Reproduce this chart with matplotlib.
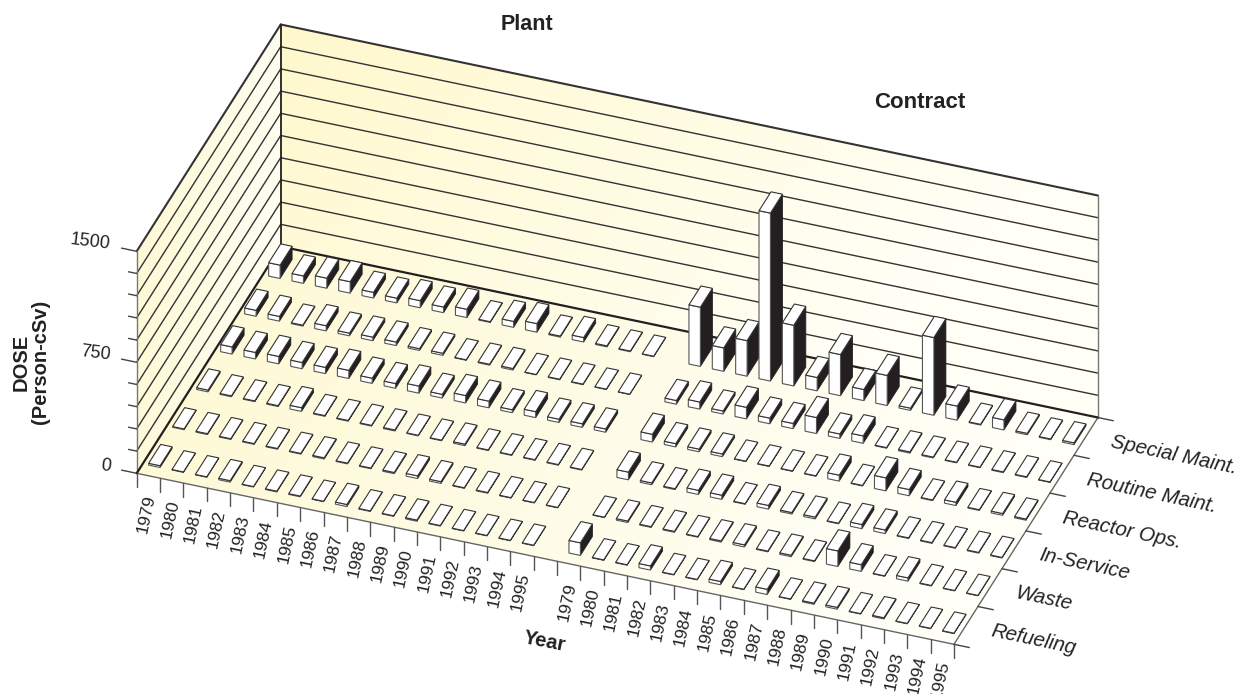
import numpy as np
import matplotlib
matplotlib.use("Agg")
import matplotlib.pyplot as plt
from matplotlib.patches import Polygon

plt.rcParams['font.family'] = ['Liberation Sans', 'DejaVu Sans']

YEARS = list(range(1979, 1996))
JOBS = ["Refueling", "Waste", "In-Service", "Reactor Ops.", "Routine Maint.", "Special Maint."]
DOSE_TICKS = [0, 750, 1500]

# Dose values (person-cSv), 1979 to 1995
plant_refueling = [12, 3, 3, 10, 3, 5, 5, 3, 14, 4, 4, 8, 4, 3, 3, 3, 3]
plant_waste = [5, 6, 5, 5, 5, 5, 8, 5, 5, 8, 18, 12, 4, 5, 3, 3, 3]
plant_inservice = [12, 6, 5, 6, 25, 5, 5, 5, 7, 4, 4, 10, 4, 4, 4, 4, 4]
plant_reactor = [48, 44, 50, 42, 42, 55, 35, 32, 48, 25, 50, 45, 20, 40, 22, 24, 22]
plant_routine = [40, 32, 6, 35, 18, 24, 24, 12, 14, 3, 6, 10, 3, 4, 4, 3, 2]
plant_special = [90, 50, 68, 77, 38, 32, 48, 38, 56, 5, 40, 58, 7, 30, 7, 5, 3]

contract_refueling = [85, 3, 3, 28, 3, 3, 22, 3, 35, 3, 8, 12, 3, 8, 3, 3, 3]
contract_waste = [3, 10, 5, 6, 4, 8, 14, 5, 10, 5, 105, 45, 3, 22, 4, 3, 3]
contract_inservice = [52, 12, 6, 28, 28, 4, 25, 10, 12, 4, 28, 24, 4, 5, 4, 5, 4]
contract_reactor = [52, 22, 18, 18, 3, 3, 3, 3, 40, 4, 88, 42, 5, 22, 5, 12, 8]
contract_routine = [25, 48, 20, 78, 38, 35, 108, 30, 50, 4, 8, 6, 4, 4, 5, 5, 3]
contract_special = [400, 158, 240, 1135, 410, 90, 278, 75, 203, 15, 525, 95, 5, 68, 10, 5, 12]

plant = [plant_refueling, plant_waste, plant_inservice, plant_reactor, plant_routine, plant_special]
contract = [contract_refueling, contract_waste, contract_inservice, contract_reactor, contract_routine, contract_special]

N_SLOTS = 35
BAR_W = 0.49
BAR_D = 0.5
WHITE = "#FFFFFF"
DARK = "#231F20"
GRAY = "#555555"


# Axonometric projection of the floor and walls, in pixels
def project(x, y, z=0):
    px = 136.7 + 23.35 * x + 24.0 * y
    py = 473.3 + 4.886 * x - 37.8 * y - z * 222.0 / 1500
    return px, py


def gradient(ax, corners, start, end, angle):
    pts = np.array(corners)
    x0, y0 = pts.min(axis=0)
    x1, y1 = pts.max(axis=0)
    xx, yy = np.meshgrid(np.linspace(0, 1, 200), np.linspace(0, 1, 200))
    t = np.clip(xx * np.cos(angle) + yy * np.sin(angle), 0, 1)[..., None]
    img = np.array(start) * (1 - t) + np.array(end) * t
    im = ax.imshow(img / 255.0, extent=(x0, x1, y1, y0), aspect='auto', zorder=1)
    im.set_clip_path(Polygon(corners, transform=ax.transData))


def line(ax, a, b, color=GRAY, lw=1.0, zorder=2):
    ax.plot([a[0], b[0]], [a[1], b[1]], color=color, lw=lw, zorder=zorder, solid_capstyle='round')


def drawBar(ax, x, y, value):
    x0, x1 = x + 0.5 - BAR_W / 2, x + 0.5 + BAR_W / 2
    y0, y1 = y + 0.5 - BAR_D / 2, y + 0.5 + BAR_D / 2
    front = [project(x0, y0), project(x1, y0), project(x1, y0, value), project(x0, y0, value)]
    side = [project(x1, y0), project(x1, y1), project(x1, y1, value), project(x1, y0, value)]
    top = [project(x0, y0, value), project(x1, y0, value), project(x1, y1, value), project(x0, y1, value)]
    ax.add_patch(Polygon(side, fc=DARK, ec=DARK, lw=0.6, zorder=3))
    ax.add_patch(Polygon(front, fc=WHITE, ec=GRAY, lw=0.8, zorder=3))
    ax.add_patch(Polygon(top, fc=WHITE, ec="#333333", lw=0.8, zorder=3))


def createGraph():
    fig = plt.figure(figsize=(12.5, 6.94), dpi=100)
    ax = fig.add_axes([0, 0, 1, 1])

    floor = [project(0, 0), project(N_SLOTS, 0), project(N_SLOTS, 6), project(0, 6)]
    back = [project(0, 6), project(N_SLOTS, 6), project(N_SLOTS, 6, 1500), project(0, 6, 1500)]
    left = [project(0, 0), project(0, 6), project(0, 6, 1500), project(0, 0, 1500)]
    gradient(ax, floor, (254, 248, 208), (255, 255, 248), 0.25)
    gradient(ax, back, (255, 248, 204), (255, 255, 246), 0.45)
    gradient(ax, left, (254, 248, 208), (255, 254, 240), 0.3)

    # wall grid lines and dose ticks
    for z in range(0, 1501, 150):
        if z > 0:
            line(ax, project(0, 6, z), project(N_SLOTS, 6, z), color="#333333", lw=1.5 if z == 1500 else 1.0)
            line(ax, project(0, 0, z), project(0, 6, z), color="#333333", lw=1.5 if z == 1500 else 1.0)
        tick = -0.65 if z in DOSE_TICKS else -0.35
        line(ax, project(tick, 0, z), project(0, 0, z), color="#444444", lw=1.0)

    # frame of floor and walls
    line(ax, project(0, 0), project(0, 0, 1500), color="#777777", lw=1.0)
    line(ax, project(0, 6), project(0, 6, 1500), color=DARK, lw=1.3)
    line(ax, project(N_SLOTS, 6), project(N_SLOTS, 6, 1500), color="#777777", lw=1.0)
    line(ax, project(0, 0), project(N_SLOTS, 0), color="#666666", lw=1.0)
    line(ax, project(N_SLOTS, 0), project(N_SLOTS, 6), color="#666666", lw=1.0)
    line(ax, project(0, 0), project(0, 6), color=DARK, lw=1.6)
    line(ax, project(0, 6), project(N_SLOTS, 6), color=DARK, lw=1.6)

    # year ticks along the front edge, category ticks along the right edge
    for i in range(N_SLOTS + 1):
        px, py = project(i, 0)
        line(ax, (px, py), (px, py + 13.5), color="#555555", lw=1.0)
    for j in range(7):
        line(ax, project(N_SLOTS, j), project(N_SLOTS + 0.66, j), color="#444444", lw=1.0)

    # bars, back row first so nearer ones paint over
    for row in range(5, -1, -1):
        for k in range(len(YEARS)):
            drawBar(ax, k, row, plant[row][k])
        for k in range(len(YEARS)):
            drawBar(ax, k + 18, row, contract[row][k])

    # year labels
    for slot, year in list(enumerate(YEARS)) + [(k + 18, yr) for k, yr in enumerate(YEARS)]:
        px, py = project(slot, 0)
        ax.text(px + 10, py + 41, str(year), rotation=78, ha='center', va='center',
                fontsize=12.5, color="#222222", rotation_mode='anchor')

    # category labels
    for j, name in enumerate(JOBS):
        px, py = project(N_SLOTS + 1.07, j + 0.5)
        ax.text(px, py, name, rotation=-12, ha='left', va='center', style='italic',
                fontsize=14.8, color="#222222", rotation_mode='anchor')

    # dose labels
    for z in DOSE_TICKS:
        px, py = project(-0.65, 0, z)
        ax.text(px - 11, py - 3.5, str(z), rotation=-7, ha='right', va='center',
                fontsize=13, color="#222222", rotation_mode='anchor')

    ax.text(31, 362, "DOSE\n(Person-cSv)", rotation=90, ha='center', va='center', fontsize=14.5,
            fontweight='bold', color="#222222", linespacing=1.0, multialignment='center')
    ax.text(527, 24, "Plant", ha='center', va='center', fontsize=15.5, fontweight='bold', color="#222222")
    ax.text(920, 102, "Contract", ha='center', va='center', fontsize=16, fontweight='bold', color="#222222")
    ax.text(545, 642, "Year", ha='center', va='center', rotation=-11, fontsize=14.5,
            fontweight='bold', color="#222222", rotation_mode='anchor')

    ax.set_xlim(0, 1250)
    ax.set_ylim(694, 0)
    ax.axis('off')
    fig.savefig('out.png', dpi=100)


if __name__ == '__main__':
    createGraph()
